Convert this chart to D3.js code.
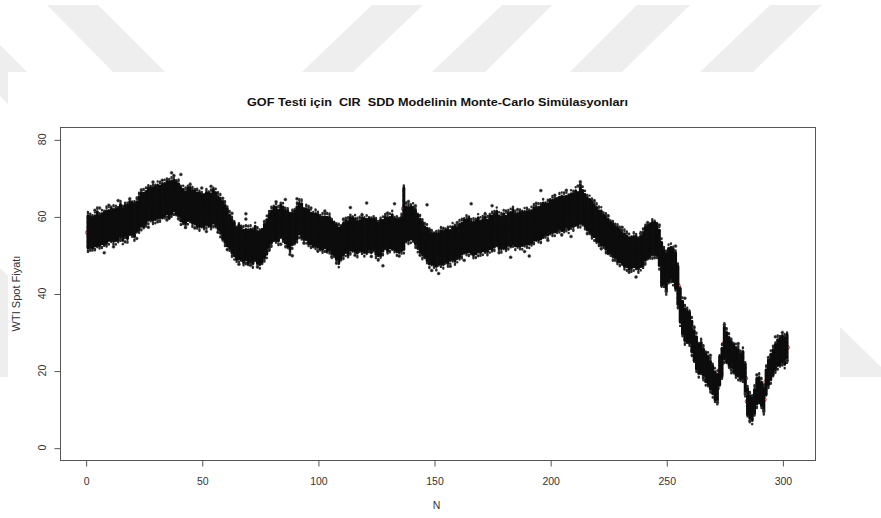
<!DOCTYPE html>
<html>
<head>
<meta charset="utf-8">
<script src="https://cdn.jsdelivr.net/npm/d3@7"></script>
<style>
  html, body { margin: 0; padding: 0; background: #fff; }
  svg { display: block; font-family: "Liberation Sans", Arial, Helvetica, sans-serif; }
</style>
</head>
<body>
<svg id="chart" width="881" height="518"></svg>
<script>
// Observed WTI spot price per step N (1..302)
const spot = [
  55.8, 56.2, 55.6, 56.4, 56.9, 56.3, 57.1, 56.8, 57.5, 57.7,
  58.1, 57.4, 58.3, 58.0, 58.6, 58.2, 59.1, 58.7, 59.3, 59.6,
  59.2, 60.1, 60.8, 61.5, 62.0, 62.6, 62.9, 63.4, 63.5, 63.2,
  63.8, 64.1, 63.7, 64.4, 64.6, 64.2, 65.0, 65.3, 65.1, 64.3,
  63.5, 62.6, 62.4, 62.9, 63.3, 62.8, 62.2, 61.9, 61.5, 61.8,
  61.4, 61.7, 62.1, 61.6, 62.2, 61.9, 61.3, 60.4, 59.2, 58.1,
  57.0, 55.9, 55.1, 54.0, 53.2, 53.6, 52.8, 52.5, 52.9, 52.3,
  52.6, 52.4, 53.0, 52.2, 51.8, 52.1, 53.3, 54.6, 56.2, 57.4,
  57.9, 58.3, 57.8, 58.6, 58.4, 57.6, 56.9, 56.0, 56.8, 57.2,
  58.4, 59.5, 59.0, 58.1, 58.0, 57.3, 56.9, 56.5, 56.8, 56.1,
  56.0, 55.4, 56.2, 55.7, 55.5, 54.8, 54.1, 53.2, 52.6, 53.4,
  54.0, 55.1, 54.6, 55.3, 55.6, 55.0, 54.7, 55.2, 55.4, 54.8,
  55.1, 55.6, 54.9, 55.4, 54.7, 54.2, 54.5, 55.1, 55.7, 55.3,
  55.8, 56.1, 55.6, 55.2, 54.9, 55.4, 62.0, 58.4, 58.0, 58.6,
  58.1, 57.2, 56.3, 55.0, 54.4, 53.5, 52.9, 52.3, 51.9, 51.6,
  51.4, 51.7, 52.0, 52.1, 52.4, 52.2, 52.6, 53.1, 52.9, 53.2,
  53.8, 54.3, 54.6, 55.1, 55.0, 54.6, 54.3, 54.8, 55.2, 54.9,
  55.1, 55.4, 55.0, 55.6, 55.9, 56.3, 56.6, 56.1, 55.8, 56.4,
  56.0, 56.5, 56.8, 57.1, 56.7, 56.3, 56.6, 57.0, 56.8, 57.2,
  57.0, 57.5, 57.8, 58.2, 58.0, 58.5, 58.9, 59.1, 59.4, 59.8,
  60.1, 60.0, 60.4, 60.7, 60.5, 60.9, 61.2, 61.0, 61.4, 61.7,
  62.0, 61.8, 62.6, 62.3, 61.5, 60.8, 60.0, 59.6, 59.0, 58.2,
  57.5, 57.0, 56.5, 55.8, 55.0, 54.6, 54.0, 53.5, 53.0, 52.5,
  52.0, 51.5, 51.2, 50.5, 50.9, 51.0, 50.7, 50.5, 51.0, 51.5,
  52.6, 53.5, 53.9, 54.0, 54.3, 54.0, 51.8, 48.0, 47.2, 46.0,
  47.5, 48.0, 47.6, 46.0, 42.0, 37.0, 33.5, 32.0, 31.5, 31.0,
  29.0, 26.5, 24.5, 23.0, 23.5, 22.0, 21.0, 20.0, 19.0, 17.5,
  16.0, 15.5, 20.0, 22.0, 27.0, 26.0, 25.0, 24.0, 23.0, 22.5,
  22.0, 21.0, 21.5, 18.0, 12.0, 10.5, 10.0, 12.0, 14.5, 15.0,
  14.0, 12.5, 17.0, 19.5, 21.0, 22.0, 23.5, 24.5, 25.0, 25.5,
  25.0, 26.0
];

// Reach of the dense simulation cloud above the observed price at each step
const spreadUp = [
  4.4, 3.8, 4.1, 3.6, 4.3, 3.9, 3.5, 4.2, 4.0, 3.7,
  3.9, 4.4, 3.6, 4.0, 4.5, 3.8, 3.7, 4.2, 4.4, 3.9,
  4.1, 3.7, 4.3, 4.6, 4.0, 3.8, 4.4, 4.1, 3.9, 4.5,
  4.2, 3.8, 4.6, 4.0, 4.4, 4.7, 4.1, 4.3, 3.9, 4.2,
  3.8, 4.3, 4.0, 4.5, 4.1, 3.9, 4.4, 4.2, 4.6, 3.8,
  4.1, 4.5, 4.0, 4.3, 4.7, 4.2, 3.9, 4.3, 4.6, 4.8,
  4.9, 4.4, 4.0, 4.3, 3.8, 4.1, 4.4, 3.9, 3.7, 4.2,
  4.0, 3.8, 4.3, 3.9, 4.1, 4.4, 4.7, 4.5, 4.3, 4.0,
  4.4, 4.1, 3.8, 4.3, 4.0, 3.9, 4.5, 4.6, 4.0, 4.2,
  4.1, 3.9, 4.3, 3.7, 4.0, 4.4, 3.8, 4.1, 3.9, 4.3,
  4.0, 4.4, 3.7, 4.1, 4.3, 3.9, 4.2, 4.6, 4.4, 3.9,
  4.2, 3.8, 4.1, 4.4, 3.9, 4.3, 4.0, 3.7, 4.2, 4.5,
  4.1, 3.8, 4.3, 3.9, 4.2, 4.0, 4.5, 3.8, 4.1, 4.4,
  3.9, 4.3, 3.8, 4.0, 4.2, 4.4, 5.3, 4.1, 4.3, 3.9,
  4.2, 4.4, 4.0, 4.3, 4.1, 3.8, 4.0, 4.2, 3.7, 3.9,
  4.1, 3.8, 4.2, 3.9, 4.0, 4.3, 3.7, 4.1, 4.4, 3.9,
  4.2, 4.0, 4.5, 4.1, 4.6, 3.9, 4.2, 4.0, 4.3, 3.8,
  4.1, 4.4, 4.0, 4.5, 4.2, 4.3, 4.6, 3.9, 4.1, 4.2,
  4.0, 4.3, 4.1, 4.6, 3.9, 4.2, 4.4, 4.0, 4.3, 4.1,
  4.2, 3.9, 4.4, 4.0, 4.3, 4.1, 4.5, 4.2, 3.9, 4.3,
  4.1, 4.4, 4.0, 4.3, 4.6, 4.2, 4.0, 4.4, 4.3, 4.1,
  4.5, 4.2, 5.5, 4.4, 4.1, 4.0, 4.3, 4.2, 3.9, 4.1,
  4.0, 4.3, 3.8, 4.1, 4.2, 3.9, 4.0, 3.8, 4.1, 3.9,
  3.7, 4.0, 3.8, 3.9, 3.6, 3.8, 4.0, 3.7, 3.9, 4.3,
  4.5, 4.2, 4.0, 4.4, 4.1, 3.9, 4.6, 5.2, 4.0, 4.3,
  4.1, 3.9, 3.8, 4.5, 5.0, 4.2, 4.4, 4.0, 3.9, 4.1,
  3.8, 3.9, 4.2, 3.7, 3.8, 3.6, 3.5, 3.7, 3.4, 3.6,
  3.5, 3.4, 3.6, 3.8, 4.4, 3.9, 3.6, 3.5, 3.7, 3.4,
  3.5, 3.3, 3.4, 3.6, 3.2, 3.0, 2.9, 3.1, 3.3, 3.2,
  3.0, 2.9, 3.2, 3.3, 3.1, 3.4, 3.2, 3.5, 3.3, 3.4,
  3.5, 3.3
];

// Reach of the dense simulation cloud below the observed price at each step
const spreadDown = [
  3.9, 4.3, 3.7, 4.1, 4.5, 3.8, 4.2, 4.0, 4.4, 3.9,
  4.2, 3.8, 4.5, 4.1, 3.9, 4.3, 4.0, 4.4, 3.8, 4.1,
  4.4, 3.9, 4.2, 4.0, 4.6, 4.3, 3.8, 4.1, 4.5, 3.9,
  4.1, 4.4, 3.9, 4.2, 4.0, 4.5, 4.3, 3.8, 4.4, 4.2,
  4.6, 4.1, 4.3, 3.9, 4.2, 4.5, 4.0, 4.4, 4.1, 4.3,
  4.0, 3.8, 4.4, 4.1, 3.9, 4.3, 4.5, 4.7, 4.9, 4.8,
  4.6, 4.2, 4.5, 4.1, 4.3, 4.6, 4.0, 4.4, 4.2, 4.5,
  4.3, 4.6, 4.1, 4.4, 4.2, 3.9, 4.0, 4.3, 4.5, 4.2,
  4.0, 4.4, 4.1, 3.8, 4.2, 4.5, 4.7, 4.6, 4.1, 3.9,
  4.2, 4.0, 4.4, 4.1, 3.9, 4.3, 4.0, 4.2, 4.5, 4.1,
  4.4, 4.0, 4.3, 4.6, 4.2, 4.5, 4.1, 4.4, 4.7, 4.2,
  4.0, 4.3, 4.5, 4.1, 4.4, 3.9, 4.2, 4.0, 4.3, 4.1,
  4.4, 4.0, 4.2, 3.9, 4.5, 4.3, 4.6, 4.1, 3.9, 4.2,
  4.0, 4.4, 4.1, 4.3, 4.0, 4.2, 10.5, 4.6, 4.2, 4.4,
  4.1, 4.3, 4.5, 4.2, 4.4, 4.0, 4.3, 4.6, 4.2, 4.1,
  4.3, 4.0, 4.2, 4.5, 4.1, 4.3, 3.9, 4.2, 4.4, 4.0,
  4.3, 4.1, 3.9, 4.4, 4.2, 4.0, 4.3, 4.5, 4.1, 4.2,
  4.0, 4.3, 4.1, 3.9, 4.4, 4.2, 4.0, 4.3, 4.1, 4.5,
  4.2, 4.0, 4.4, 4.1, 4.3, 3.9, 4.2, 4.5, 4.0, 4.3,
  4.1, 4.4, 3.9, 4.2, 4.0, 4.3, 4.1, 3.8, 4.2, 4.0,
  4.3, 4.0, 4.2, 3.9, 4.1, 4.4, 4.0, 4.2, 3.9, 4.3,
  4.1, 3.9, 4.4, 4.2, 4.0, 4.3, 4.1, 4.4, 4.2, 4.5,
  4.2, 4.4, 4.0, 4.3, 4.5, 4.1, 4.4, 4.2, 4.6, 4.3,
  4.1, 4.4, 4.2, 4.6, 4.3, 4.0, 3.8, 4.1, 3.9, 4.2,
  4.0, 4.3, 4.1, 3.9, 4.2, 4.0, 4.5, 5.8, 4.6, 5.2,
  4.3, 4.1, 4.4, 4.6, 4.8, 4.3, 3.9, 4.2, 4.0, 3.8,
  4.1, 3.8, 4.0, 3.7, 3.9, 3.6, 3.8, 3.5, 3.7, 3.4,
  3.5, 3.2, 3.6, 3.4, 3.9, 3.7, 3.5, 3.6, 3.3, 3.5,
  3.4, 3.2, 3.5, 3.6, 3.3, 2.9, 2.8, 3.0, 3.1, 3.2,
  3.0, 2.8, 3.1, 3.2, 3.3, 3.0, 3.2, 3.1, 3.4, 3.2,
  3.3, 3.4
];

// Isolated simulated values lying outside the dense cloud: [N, price]
const strays = [
  [2,51.2],[4,61.6],[6,62.2],[8,50.6],[10,62.9],[12,52.1],[14,64.1],[17,53.4],[19,64.6],[22,54.3],
  [24,66.9],[27,57.2],[29,68.9],[31,58.6],[33,69.4],[35,59.1],[37,71.3],[38,70.6],[40,59.4],[41,70.9],
  [43,57.1],[45,68.3],[47,57.0],[50,67.4],[52,56.1],[54,67.8],[57,55.9],[59,64.7],[61,51.4],[63,60.8],
  [66,47.6],[69,60.7],[69,59.3],[71,47.3],[74,46.9],[77,58.7],[79,51.3],[82,63.8],[84,52.8],[86,64.4],
  [88,50.1],[89,49.8],[91,64.6],[94,53.1],[97,62.2],[100,51.0],[103,61.4],[106,49.6],[108,47.9],[111,59.3],
  [114,62.3],[116,49.9],[119,60.4],[121,63.5],[123,49.6],[126,48.7],[128,47.2],[130,60.9],[133,63.3],[135,49.7],
  [139,63.9],[142,62.8],[144,49.9],[147,63.0],[149,46.0],[152,45.2],[154,56.9],[157,47.1],[160,58.4],[163,48.6],
  [166,63.3],[169,49.8],[172,60.6],[175,62.8],[178,50.6],[181,61.4],[183,49.4],[186,61.8],[189,50.9],[191,49.7],
  [194,63.4],[196,66.7],[199,53.8],[202,65.5],[205,55.2],[207,66.8],[209,54.8],[212,67.9],[213,69.0],[216,55.6],
  [219,64.1],[222,51.7],[225,60.1],[228,48.6],[231,57.2],[234,45.6],[237,44.3],[239,55.6],[242,58.4],[245,49.3],
  [247,57.8],[250,40.5],[254,52.3],[258,38.8],[262,31.2],[266,18.1],[269,24.0],[272,11.8],[275,31.9],[278,20.2],
  [281,27.0],[284,13.9],[286,6.9],[289,18.9],[292,9.4],[294,23.4],[297,28.8],[300,29.9],[302,22.6]
];

const steps = spot.map((_, i) => i + 1);
const xTicks = [0, 50, 100, 150, 200, 250, 300];
const yTicks = [0, 20, 40, 60, 80];
const yLimits = [0, 80];

const titleText = "GOF Testi için  CIR  SDD Modelinin Monte-Carlo Simülasyonları";
const xLabel = "N";
const yLabel = "WTI Spot Fiyatı";

const svg = d3.select("#chart");

// ---- page background: faint diagonal band pattern and white sheet ----
const bands = [
  [[47,5],[98,5],[165,72],[113,72]],
  [[0,45],[27,72],[0,72]],
  [[0,72],[8,72],[8,104],[0,96]],
  [[0,268],[8,276],[8,377],[0,377]],
  [[372,5],[423,5],[353,72],[302,72]],
  [[502,5],[552,5],[485,72],[432,72]],
  [[637,5],[690,5],[622,72],[570,72]],
  [[770,5],[822,5],[753,72],[700,72]],
  [[840,327],[881,367],[881,377],[840,377]]
];
svg.append("g").selectAll("polygon").data(bands).join("polygon")
  .attr("points", d => d.map(p => p.join(",")).join(" "))
  .attr("fill", "#eeeeee");
svg.append("rect").attr("x", 8).attr("y", 72).attr("width", 832).attr("height", 446).attr("fill", "#ffffff");

// ---- plot region ----
const plot = { left: 60, right: 815, top: 127, bottom: 460 };

const xr = d3.extent(steps);
const xPad = 0.04 * (xr[1] - xr[0]);
const x = d3.scaleLinear().domain([xr[0] - xPad, xr[1] + xPad]).range([plot.left, plot.right]);
const yPad = 0.04 * (yLimits[1] - yLimits[0]);
const y = d3.scaleLinear().domain([yLimits[0] - yPad, yLimits[1] + yPad]).range([plot.bottom, plot.top]);

// observed series (red), drawn underneath the simulations
const obs = svg.append("g");
obs.append("path")
  .datum(steps)
  .attr("fill", "none")
  .attr("stroke", "#e3262c")
  .attr("stroke-width", 1)
  .attr("d", d3.line().x(n => x(n)).y((n, i) => y(spot[i])));
obs.selectAll("circle").data(steps).join("circle")
  .attr("cx", n => x(n))
  .attr("cy", (n, i) => y(spot[i]))
  .attr("r", 2.4)
  .attr("fill", "none")
  .attr("stroke", "#e3262c")
  .attr("stroke-width", 1);

// simulated paths: dense cloud per step, with a stippled fringe around it
const cloud = steps.map((n, i) => ({ n, i, lo: spot[i] - spreadDown[i], hi: spot[i] + spreadUp[i] }));
svg.append("g").selectAll("line").data(cloud).join("line")
  .attr("x1", d => x(d.n)).attr("x2", d => x(d.n))
  .attr("y1", d => y(d.lo - 1.1)).attr("y2", d => y(d.hi + 1.1))
  .attr("stroke", "#2a2a2a")
  .attr("stroke-width", 2.4)
  .attr("stroke-linecap", "round")
  .attr("stroke-dasharray", "1.6 3.2")
  .attr("stroke-dashoffset", d => (d.i * 1.7) % 4.8);
svg.append("g").selectAll("line").data(cloud).join("line")
  .attr("x1", d => x(d.n)).attr("x2", d => x(d.n))
  .attr("y1", d => y(d.lo)).attr("y2", d => y(d.hi))
  .attr("stroke", "#0c0c0c")
  .attr("stroke-width", 3.0)
  .attr("stroke-linecap", "round");

// scattered simulated values
svg.append("g").selectAll("circle").data(strays).join("circle")
  .attr("cx", d => x(d[0]))
  .attr("cy", d => y(d[1]))
  .attr("r", 1.5)
  .attr("fill", "#1e1e1e")
  .attr("stroke", "#555")
  .attr("stroke-width", 0.5);

// frame
svg.append("rect")
  .attr("x", plot.left + 0.5).attr("y", plot.top + 0.5)
  .attr("width", plot.right - plot.left).attr("height", plot.bottom - plot.top)
  .attr("fill", "none").attr("stroke", "#555").attr("stroke-width", 1);

// x axis
const gx = svg.append("g").attr("transform", `translate(0.5,${plot.bottom + 0.5})`)
  .call(d3.axisBottom(x).tickValues(xTicks).tickSize(6).tickSizeOuter(0).tickPadding(11));
gx.select(".domain").remove();
gx.selectAll(".tick line").attr("stroke", "#555");
gx.selectAll(".tick text").attr("fill", "#333").attr("font-size", "10.5px")
  .attr("font-family", "Liberation Sans, Arial, sans-serif");

// y axis (labels parallel to the axis)
const gy = svg.append("g").attr("transform", `translate(${plot.left + 0.5},0.5)`)
  .call(d3.axisLeft(y).tickValues(yTicks).tickSize(6).tickSizeOuter(0).tickFormat(""));
gy.select(".domain").remove();
gy.selectAll(".tick line").attr("stroke", "#555");
svg.append("g").selectAll("text").data(yTicks).join("text")
  .attr("transform", d => `translate(42,${y(d)}) rotate(-90)`)
  .attr("text-anchor", "middle")
  .attr("dominant-baseline", "central")
  .attr("font-size", "10.5px")
  .attr("fill", "#333")
  .text(d => d);

// titles
svg.append("text")
  .attr("x", (plot.left + plot.right) / 2)
  .attr("y", 102)
  .attr("text-anchor", "middle")
  .attr("dominant-baseline", "central")
  .attr("font-size", "11.5px")
  .attr("font-weight", "bold")
  .attr("fill", "#111")
  .attr("textLength", 381)
  .attr("lengthAdjust", "spacingAndGlyphs")
  .style("white-space", "pre")
  .text(titleText);

svg.append("text")
  .attr("x", (plot.left + plot.right) / 2 - 1)
  .attr("y", 505)
  .attr("text-anchor", "middle")
  .attr("dominant-baseline", "central")
  .attr("font-size", "10.5px")
  .attr("fill", "#333")
  .text(xLabel);

svg.append("text")
  .attr("transform", `translate(16,${(plot.top + plot.bottom) / 2}) rotate(-90)`)
  .attr("text-anchor", "middle")
  .attr("dominant-baseline", "central")
  .attr("font-size", "11px")
  .attr("fill", "#333")
  .text(yLabel);
</script>
</body>
</html>
